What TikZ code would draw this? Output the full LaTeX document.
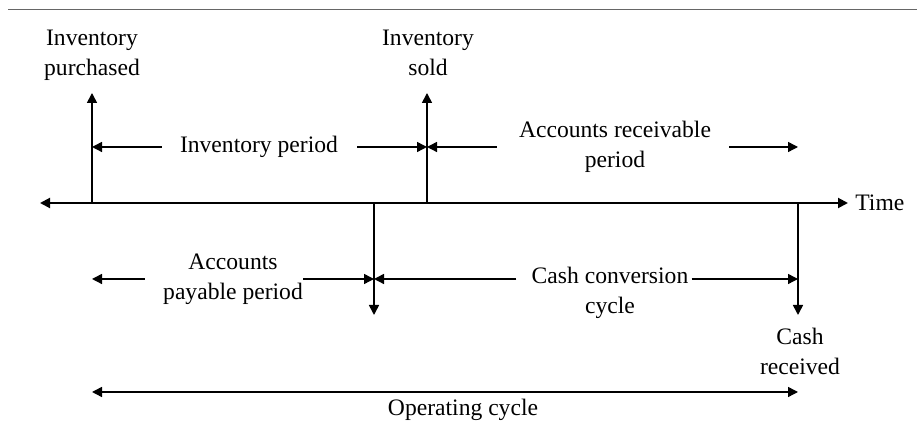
\documentclass[tikz,border=0pt]{standalone}
\usepackage{fontspec}
\setmainfont{Liberation Serif}
\usetikzlibrary{arrows.meta}

\begin{document}
\begin{tikzpicture}[
    % Масштаб: одна единица = один пиксель исходной картинки, ось Y вниз
    x=0.5pt, y=-0.5pt,
    >={Triangle[length=5pt, width=5pt]},
    % Стиль для подписей: текст без рамки
    lbl/.style={align=center, inner sep=0pt, font=\fontsize{11.8}{15}\selectfont},
    % Стиль для оси времени: толстая линия
    axis/.style={line width=1pt, <->},
    % Стиль для событий: вертикальные стрелки
    event/.style={line width=0.8pt, ->},
    % Стиль для периодов: тонкие горизонтальные стрелки
    span/.style={line width=0.7pt, ->}
]
    \useasboundingbox (0,0) rectangle (917,421);

    % --- Верхняя линия ---
    \draw[black!60, line width=0.5pt] (8,10) -- (917,10);

    % --- Ось времени ---
    \coordinate (axl) at (40,203);
    \node[lbl, anchor=west] (time) at (855,203) {Time};
    \draw[axis, shorten >=3.5pt] (axl) -- (time.west);

    % --- Точки событий на оси ---
    \coordinate (e1) at (92,203);
    \coordinate (e2) at (427,203);
    \coordinate (e3) at (374,203);
    \coordinate (e4) at (798,203);

    % --- Концы вертикальных стрелок ---
    \coordinate (t1) at (92,93);
    \coordinate (t2) at (427,93);
    \coordinate (t3) at (374,315);
    \coordinate (t4) at (798,315);

    % --- Подписи событий ---
    \node[lbl] (purch) at (92,55) {Inventory\\purchased};
    \node[lbl] (sold) at (428,53) {Inventory\\sold};
    \node[lbl] (cash) at (800,351) {Cash\\received};

    \draw[event] (e1) -- (t1);
    \draw[event] (e2) -- (t2);
    \draw[event] (e3) -- (t3);
    \draw[event] (e4) -- (t4);

    % --- Периоды над осью ---
    \node[lbl] (invp) at (259,147) {Inventory period};
    \node[lbl] (arp) at (615,147) {Accounts receivable\\period};
    \draw[span, shorten <=9pt] (invp.west) -- (e1 |- invp);
    \draw[span, shorten <=9.5pt] (invp.east) -- (e2 |- invp);
    \draw[span, shorten <=11pt] (arp.west) -- (e2 |- arp);
    \draw[span, shorten <=9pt] (arp.east) -- (e4 |- arp);

    % --- Периоды под осью ---
    \node[lbl] (app) at (233,279) {Accounts\\payable period};
    \node[lbl] (ccc) at (610,293) {Cash conversion\\cycle};
    \draw[span, shorten <=9pt] (app.west) -- (e1 |- app);
    \draw[span] (app.east) -- (e3 |- app);
    \draw[span, shorten <=7.5pt] (ccc.west |- app) -- (e3 |- app);
    \draw[span, shorten <=1.5pt] (ccc.east |- app) -- (e4 |- app);

    % --- Операционный цикл ---
    \coordinate (ol) at (92,392);
    \coordinate (or) at (798,392);
    \node[lbl] (opc) at (463,410) {Operating cycle};
    \draw[span, <->] (ol) -- (or);

\end{tikzpicture}
\end{document}
